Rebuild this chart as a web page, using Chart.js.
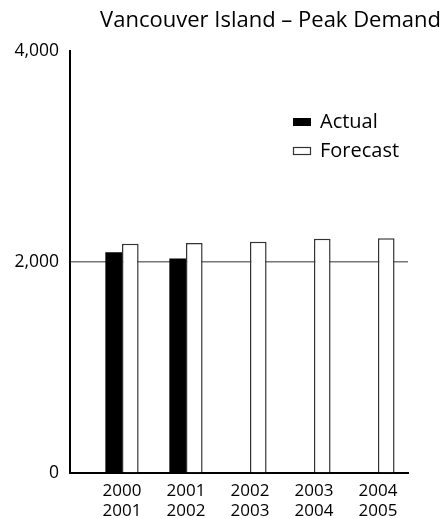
<!DOCTYPE html>
<html>
<head>
<meta charset="utf-8">
<script src="https://cdn.jsdelivr.net/npm/chart.js@4/dist/chart.umd.min.js"></script>
<style>
  html, body { margin: 0; padding: 0; background: #fff; }
  #wrap { width: 443px; height: 518px; position: relative; }
</style>
</head>
<body>
<div id="wrap"><canvas id="c" width="443" height="518"></canvas></div>
<script>
// Winter peak demand, Vancouver Island (MW)
const categories = [['2000', '2001'], ['2001', '2002'], ['2002', '2003'], ['2003', '2004'], ['2004', '2005']];
const actual = [2092, 2034, null, null, null];
const forecast = [2172, 2179, 2192, 2221, 2225];
const yTicks = [0, 2000, 4000];
const chartTitle = 'Vancouver Island – Peak Demand';

const FONT = "'Open Sans', 'DejaVu Sans', sans-serif";

const toPoints = arr => arr.map((v, i) => ({ x: i, y: v }));

// Title drawn flush right above the plot
const titlePlugin = {
  id: 'rightTitle',
  afterDraw(chart) {
    const ctx = chart.ctx;
    ctx.save();
    ctx.font = '22px ' + FONT;
    ctx.fillStyle = '#000';
    ctx.textAlign = 'right';
    ctx.textBaseline = 'middle';
    ctx.fillText(chartTitle, 441, 21);
    ctx.restore();
  }
};

// Legend placed inside the plot, upper right
const innerLegend = {
  id: 'innerLegend',
  afterDraw(chart) {
    const ctx = chart.ctx;
    const x0 = 293, rows = [122, 151];
    ctx.save();
    ctx.font = '20px ' + FONT;
    ctx.textBaseline = 'middle';
    ctx.textAlign = 'left';
    chart.data.datasets.forEach((ds, i) => {
      const y = rows[i];
      ctx.fillStyle = ds.backgroundColor;
      ctx.fillRect(x0, y - 4, 18, 8);
      if (ds.borderWidth) {
        ctx.strokeStyle = ds.borderColor;
        ctx.lineWidth = 1.2;
        ctx.strokeRect(x0 + 0.5, y - 3.5, 17, 7);
      }
      ctx.fillStyle = '#000';
      ctx.fillText(ds.label, x0 + 27, y);
    });
    ctx.restore();
  }
};

new Chart(document.getElementById('c'), {
  type: 'bar',
  data: {
    datasets: [
      {
        label: 'Actual',
        data: toPoints(actual),
        backgroundColor: '#000',
        borderWidth: 0
      },
      {
        label: 'Forecast',
        data: toPoints(forecast),
        backgroundColor: '#fff',
        borderColor: '#333',
        borderWidth: 1.5,
        borderSkipped: 'bottom'
      }
    ]
  },
  options: {
    responsive: false,
    animation: false,
    devicePixelRatio: 1,
    layout: { padding: { top: 51, right: 35, bottom: 0, left: 0 } },
    datasets: { bar: { categoryPercentage: 0.52, barPercentage: 1 } },
    plugins: {
      legend: { display: false },
      title: { display: false },
      tooltip: { enabled: false }
    },
    scales: {
      x: {
        type: 'linear',
        offset: false,
        min: -0.8125,
        max: 4.47,
        afterFit(scale) { scale.height = 45; },
        afterBuildTicks(scale) { scale.ticks = categories.map((_, i) => ({ value: i })); },
        grid: { display: false, drawTicks: false, offset: false },
        border: { display: true, color: '#000', width: 2 },
        ticks: {
          padding: 8,
          color: '#000',
          font: { family: FONT, size: 17, lineHeight: 1.2 },
          maxRotation: 0,
          autoSkip: false,
          callback: v => categories[v] || ''
        }
      },
      y: {
        min: 0,
        max: 4000,
        afterFit(scale) { scale.width = 70; },
        afterBuildTicks(scale) { scale.ticks = yTicks.map(v => ({ value: v })); },
        grid: {
          drawTicks: false,
          lineWidth: 1.5,
          color: ctx => (ctx.tick && ctx.tick.value === 2000) ? '#777' : 'rgba(0,0,0,0)'
        },
        border: { display: true, color: '#000', width: 2 },
        ticks: {
          padding: 11,
          color: '#000',
          font: { family: FONT, size: 17.5 },
          callback: v => v.toLocaleString('en-US')
        }
      }
    }
  },
  plugins: [titlePlugin, innerLegend]
});
</script>
</body>
</html>
